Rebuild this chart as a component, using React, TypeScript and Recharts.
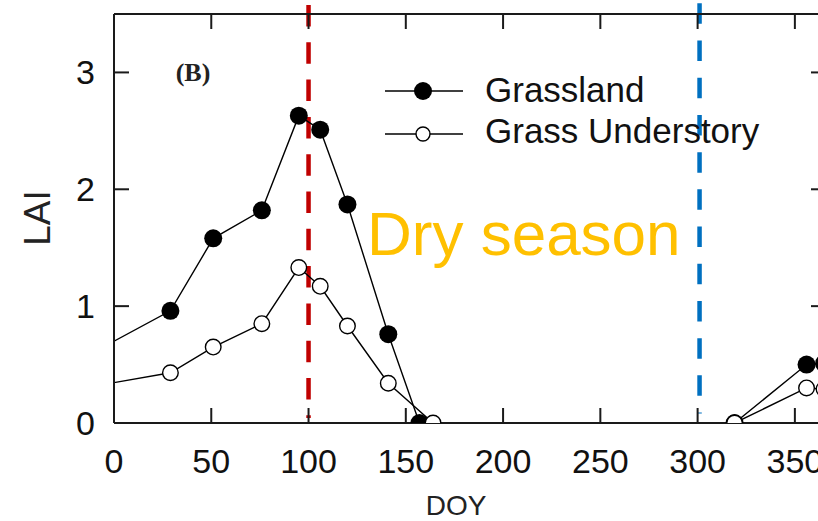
import React from 'react';
import { LineChart, Line, XAxis, YAxis, ReferenceLine, Legend, Customized } from 'recharts';

// Day of year and LAI values
const grasslandDoy = [0, 29, 51, 76, 95, 106, 120, 141, 157, 319, 356, 365];
const grasslandLai = [0.70, 0.96, 1.58, 1.82, 2.63, 2.51, 1.87, 0.76, 0, 0, 0.50, 0.51];
const understoryDoy = [0, 29, 51, 76, 95, 106, 120, 141, 164, 319, 356, 365];
const understoryLai = [0.345, 0.43, 0.65, 0.85, 1.33, 1.17, 0.83, 0.34, 0, 0, 0.30, 0.29];

const xTicks = [0, 50, 100, 150, 200, 250, 300, 350];
const yTicks = [0, 1, 2, 3];
const dryStartDoy = 100;
const dryEndDoy = 301;

const seriesNames = ['Grassland', 'Grass Understory'];
const panelLabel = '(B)';
const seasonLabel = 'Dry season';

const grassland = grasslandDoy.map((d, i) => ({ doy: d, lai: grasslandLai[i] }));
const understory = understoryDoy.map((d, i) => ({ doy: d, lai: understoryLai[i] }));

const AX = '#1a1a1a';
const FONT = '"Liberation Sans", Arial, sans-serif';
const TL = 15;

const filledDot = (p: any) =>
  p.index === 0 ? (
    <g key={`f-${p.index}`} />
  ) : (
    <circle key={`f-${p.index}`} cx={p.cx} cy={p.cy} r={9} fill="#000" stroke="none" />
  );

const openDot = (p: any) =>
  p.index === 0 ? (
    <g key={`o-${p.index}`} />
  ) : (
    <circle key={`o-${p.index}`} cx={p.cx} cy={p.cy} r={7.8} fill="#fff" stroke="#000" strokeWidth={1.4} />
  );

const BottomTick = (p: any) => (
  <g>
    <line x1={p.x} y1={p.y} x2={p.x} y2={p.y - TL} stroke={AX} strokeWidth={2} />
    <text x={p.x} y={p.y + 50} textAnchor="middle" fontSize={34} fill="#111" fontFamily={FONT}>
      {p.payload.value}
    </text>
  </g>
);

const LeftTick = (p: any) => (
  <g>
    <line x1={p.x} y1={p.y} x2={p.x + TL} y2={p.y} stroke={AX} strokeWidth={2} />
    <text x={p.x - 19} y={p.y + 12} textAnchor="end" fontSize={34} fill="#111" fontFamily={FONT}>
      {p.payload.value}
    </text>
  </g>
);

const TopTick = (p: any) => (
  <line x1={p.x} y1={p.y} x2={p.x} y2={p.y + TL} stroke={AX} strokeWidth={2} />
);

const RightTick = (p: any) => (
  <line x1={p.x} y1={p.y} x2={p.x - TL} y2={p.y} stroke={AX} strokeWidth={2} />
);

const LegendContent = () => (
  <svg width={430} height={90} style={{ display: 'block' }}>
    <line x1={5} y1={23} x2={83} y2={23} stroke="#000" strokeWidth={1.4} />
    <circle cx={43} cy={23} r={9} fill="#000" />
    <text x={105} y={34} fontSize={35} fill="#111" fontFamily={FONT}>{seriesNames[0]}</text>
    <line x1={5} y1={66} x2={83} y2={66} stroke="#000" strokeWidth={1.4} />
    <circle cx={43} cy={66} r={7} fill="#fff" stroke="#000" strokeWidth={1.4} />
    <text x={105} y={75} fontSize={35} fill="#111" fontFamily={FONT}>{seriesNames[1]}</text>
  </svg>
);

const Annotations = () => (
  <g>
    <text x={193} y={81} textAnchor="middle" fontSize={26} fontWeight="bold" fontFamily='"Liberation Serif", "Times New Roman", serif' fill="#222">{panelLabel}</text>
    <text x={367} y={255} fontSize={62} fontFamily={FONT} fill="#ffc000">{seasonLabel}</text>
    <text x={456} y={515} textAnchor="middle" fontSize={28} fontFamily={FONT} fill="#222">DOY</text>
    <text x={37} y={218} textAnchor="middle" dominantBaseline="central" transform="rotate(-90 37 218)" fontSize={37} fontFamily={FONT} fill="#222">LAI</text>
  </g>
);

export default function App() {
  return (
    <div style={{ position: 'absolute', left: 0, top: 0, width: 818, height: 521, overflow: 'hidden', background: '#fff' }}>
      <LineChart width={836} height={521} margin={{ top: 0, right: 0, bottom: 0, left: 0 }} style={{ fontFamily: FONT }}>
        <XAxis
          xAxisId={0}
          dataKey="doy"
          type="number"
          domain={[0, 366]}
          ticks={xTicks}
          interval={0}
          orientation="bottom"
          height={98}
          tickSize={0}
          tickMargin={0}
          axisLine={{ stroke: AX, strokeWidth: 2 }}
          tickLine={false}
          tick={BottomTick}
          allowDataOverflow
        />
        <XAxis
          xAxisId="top"
          dataKey="doy"
          type="number"
          domain={[0, 366]}
          ticks={xTicks}
          interval={0}
          orientation="top"
          height={14}
          tickSize={0}
          tickMargin={0}
          axisLine={{ stroke: AX, strokeWidth: 2 }}
          tickLine={false}
          tick={TopTick}
          allowDataOverflow
        />
        <YAxis
          yAxisId={0}
          type="number"
          domain={[0, 3.5]}
          ticks={yTicks}
          interval={0}
          orientation="left"
          width={114}
          tickSize={0}
          tickMargin={0}
          axisLine={{ stroke: AX, strokeWidth: 2 }}
          tickLine={false}
          tick={LeftTick}
          allowDataOverflow
        />
        <YAxis
          yAxisId="right"
          type="number"
          domain={[0, 3.5]}
          ticks={yTicks}
          interval={0}
          orientation="right"
          width={10}
          tickSize={0}
          tickMargin={0}
          axisLine={{ stroke: AX, strokeWidth: 2 }}
          tickLine={false}
          tick={RightTick}
          allowDataOverflow
        />
        <ReferenceLine
          segment={[{ x: dryStartDoy, y: 3.577 }, { x: dryStartDoy, y: 0.043 }]}
          stroke="#c00000"
          strokeWidth={4.5}
          strokeDasharray="21.5 15.8"
          ifOverflow="visible"
        />
        <ReferenceLine
          segment={[{ x: dryEndDoy, y: 3.591 }, { x: dryEndDoy, y: 0.081 }]}
          stroke="#0070c0"
          strokeWidth={4.5}
          strokeDasharray="20.5 16.7"
          ifOverflow="visible"
        />
        <Line
          data={grassland}
          dataKey="lai"
          name={seriesNames[0]}
          stroke="#000"
          strokeWidth={1.4}
          dot={filledDot}
          activeDot={false}
          isAnimationActive={false}
        />
        <Line
          data={understory}
          dataKey="lai"
          name={seriesNames[1]}
          stroke="#000"
          strokeWidth={1.4}
          dot={openDot}
          activeDot={false}
          isAnimationActive={false}
        />
        <Legend
          layout="horizontal"
          verticalAlign="middle"
          align="center"
          wrapperStyle={{ left: 380, top: 68, width: 430, height: 90 }}
          content={LegendContent}
        />
        <Customized component={Annotations} />
      </LineChart>
    </div>
  );
}
